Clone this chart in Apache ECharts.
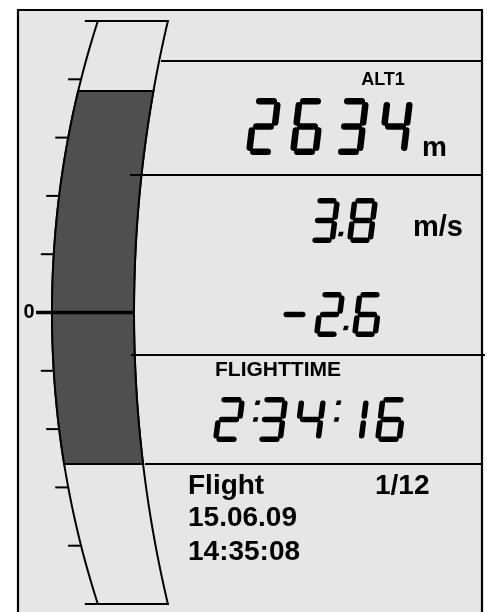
<!DOCTYPE html>
<html>
<head>
<meta charset="utf-8">
<script src="https://cdn.jsdelivr.net/npm/echarts@6/dist/echarts.min.js"></script>
<style>
  html, body { margin: 0; padding: 0; background: #fff; }
  #main { width: 487px; height: 612px; }
</style>
</head>
<body>
<div id="main"></div>
<script>
// vario display: curved scale on the left, LCD read-outs on the right

const scaleTicks = [-5, -4, -3, -2, -1, 0, 1, 2, 3, 4, 5]
const scaleLabels = ['0']
const varioRange = [-2.6, 3.8] // average sink .. current climb
const altLabel = 'ALT1'
const altitude = '2634'
const altUnit = 'm'
const climb = '3.8'
const climbUnit = 'm/s'
const average = '-2.6'
const timeLabel = 'FLIGHTTIME'
const flightTime = '2:34:16'
const infoRows = ['Flight', '15.06.09', '14:35:08']
const flightIndex = '1/12'

const FONT = '"Liberation Sans", Arial, sans-serif'
const BG = '#e6e6e6'
const DARK = '#4f4f4f'

// edges of the curved band (pixel geometry)
const edges = (y, yc) => {
  const d = y - yc
  return [
    52 + 950 - Math.sqrt(950 * 950 - d * d),
    134 + 1271 - Math.sqrt(1271 * 1271 - d * d)
  ]
}

const bandPoints = (api, v1, v2) => {
  const yc = api.coord([0, 0])[1]
  const ya = api.coord([0, v2])[1]
  const yb = api.coord([0, v1])[1]
  const left = []
  const right = []
  const n = 60
  for (let i = 0; i <= n; i++) {
    const y = ya + (yb - ya) * i / n
    const e = edges(y, yc)
    left.push([e[0], y])
    right.push([e[1], y])
  }
  return left.concat(right.reverse())
}

// 7-segment LCD text as line elements
const SEGS = {
  0: 'abcdef', 1: 'bc', 2: 'abged', 3: 'abgcd', 4: 'fgbc',
  5: 'afgcd', 6: 'afgedc', 7: 'abc', 8: 'abcdefg', 9: 'abcdfg'
}
const lcd = (str, x, top, o) => {
  const els = []
  const t = o.t
  const H = o.h
  const seg = (x1, y1, x2, y2) => els.push({
    type: 'line', z: 10,
    shape: { x1, y1, x2, y2 },
    style: { stroke: '#000', lineWidth: t, lineCap: 'round' }
  })
  const yt = top + t / 2
  const yb = top + H - t / 2
  const ym = (yt + yb) / 2
  const sl = (px, py) => px + o.s * (yb - py) / (yb - yt)
  const dot = (cx, cy) => {
    const sz = o.dot
    const dx = sl(cx, cy) - cx
    els.push({
      type: 'polygon', z: 10,
      shape: { points: [[cx - sz / 2 + dx + 0.6, cy - sz / 2], [cx + sz / 2 + dx + 0.6, cy - sz / 2], [cx + sz / 2 + dx - 0.6, cy + sz / 2], [cx - sz / 2 + dx - 0.6, cy + sz / 2]] },
      style: { fill: '#000' }
    })
  }
  let cx = x
  for (const ch of str) {
    if (SEGS[ch] !== undefined) {
      const xl = cx + t / 2
      const xr = cx + o.w - o.s - t / 2
      const g = t * 0.62
      const L = {
        a: [xl + g, yt, xr - g, yt],
        b: [xr, yt + g, xr, ym - g],
        c: [xr, ym + g, xr, yb - g],
        d: [xl + g, yb, xr - g, yb],
        e: [xl, ym + g, xl, yb - g],
        f: [xl, yt + g, xl, ym - g],
        g: [xl + g, ym, xr - g, ym]
      }
      for (const k of SEGS[ch]) {
        const p = L[k]
        seg(sl(p[0], p[1]), p[1], sl(p[2], p[3]), p[3])
      }
      cx += o.pitch
    } else if (ch === '.') {
      dot(cx - o.dotBack, top + H * 0.8)
      cx += o.dotAdv
    } else if (ch === ':') {
      dot(cx + 2, top + H * 0.13)
      dot(cx + 2, top + H * 0.5)
      cx += o.colonAdv
    } else if (ch === '-') {
      seg(sl(cx + t / 2, ym), ym, sl(cx + o.minusW - t / 2, ym), ym)
      cx += o.minusAdv
    }
  }
  return els
}

const text = (str, x, y, size, align) => ({
  type: 'text', z: 10,
  style: {
    text: str, x, y, fill: '#000',
    font: 'bold ' + size + 'px ' + FONT,
    textAlign: align || 'left', textVerticalAlign: 'middle'
  }
})
const hline = (x1, x2, y) => ({
  type: 'line', z: 10,
  shape: { x1, y1: y, x2, y2: y },
  style: { stroke: '#000', lineWidth: 1.8 }
})

const big = { h: 57, w: 35, s: 6, t: 6.5, pitch: 44, dot: 5, dotBack: 6, dotAdv: 2 }
const mid = { h: 45, w: 31, s: 5, t: 5.5, pitch: 36, dot: 4.5, dotBack: 5, dotAdv: 2, minusW: 22, minusAdv: 33 }
const tim = { h: 45, w: 32, s: 5, t: 5.5, pitch: 38, dot: 4.5, colonAdv: 5 }

const graphics = [
  {
    type: 'rect', z: -10,
    shape: { x: 18, y: 10, width: 464, height: 640 },
    style: { fill: BG, stroke: '#000', lineWidth: 2.2 }
  },
  hline(161, 482, 61),
  hline(130, 482, 175),
  hline(131, 485, 355),
  hline(145, 482, 464),
  text(altLabel, 383, 80, 18, 'center'),
  text(altUnit, 422, 148, 28),
  text(climbUnit, 413, 228, 29),
  text(timeLabel, 215, 370, 21),
  text(infoRows[0], 188, 486, 28),
  text(flightIndex, 375, 486, 28),
  text(infoRows[1], 188, 518, 28),
  text(infoRows[2], 188, 552, 28)
]
  .concat(lcd(altitude, 246, 98, big))
  .concat(lcd(climb, 309, 198, mid))
  .concat(lcd(average, 281, 292, mid))
  .concat(lcd(flightTime, 213, 397, tim))

const myChart = echarts.init(document.getElementById('main'), null, { renderer: 'canvas' })

const option = {
  animation: false,
  backgroundColor: '#fff',
  grid: { left: 0, right: 0, top: 21, bottom: 8 },
  xAxis: { type: 'value', min: 0, max: 487, show: false },
  yAxis: { type: 'value', min: -5, max: 5, interval: 1, show: false },
  graphic: graphics,
  series: [
    {
      name: 'band',
      type: 'custom',
      z: 2,
      data: [[scaleTicks[0], scaleTicks[scaleTicks.length - 1]]],
      renderItem: (params, api) => ({
        type: 'polygon',
        shape: { points: bandPoints(api, api.value(0), api.value(1)) },
        style: { fill: BG, stroke: '#000', lineWidth: 2 }
      })
    },
    {
      name: 'vario',
      type: 'custom',
      z: 3,
      data: [varioRange],
      renderItem: (params, api) => ({
        type: 'polygon',
        shape: { points: bandPoints(api, api.value(0), api.value(1)) },
        style: { fill: DARK, stroke: '#000', lineWidth: 2 }
      })
    },
    {
      name: 'ticks',
      type: 'custom',
      z: 4,
      data: scaleTicks.map(v => [0, v]),
      renderItem: (params, api) => {
        const v = api.value(1)
        const yc = api.coord([0, 0])[1]
        const y = api.coord([0, v])[1]
        const e = edges(y, yc)
        if (v === 0) {
          return {
            type: 'group',
            children: [
              { type: 'line', shape: { x1: 36, y1: y, x2: e[1], y2: y }, style: { stroke: '#000', lineWidth: 3.5 } },
              { type: 'text', style: { text: scaleLabels[0], x: 29, y: y, fill: '#000', font: 'bold 20px ' + FONT, textAlign: 'center', textVerticalAlign: 'middle' } }
            ]
          }
        }
        return { type: 'line', shape: { x1: e[0] - 13, y1: y, x2: e[0], y2: y }, style: { stroke: '#000', lineWidth: 2 } }
      }
    }
  ]
}

option && myChart.setOption(option)
</script>
</body>
</html>
